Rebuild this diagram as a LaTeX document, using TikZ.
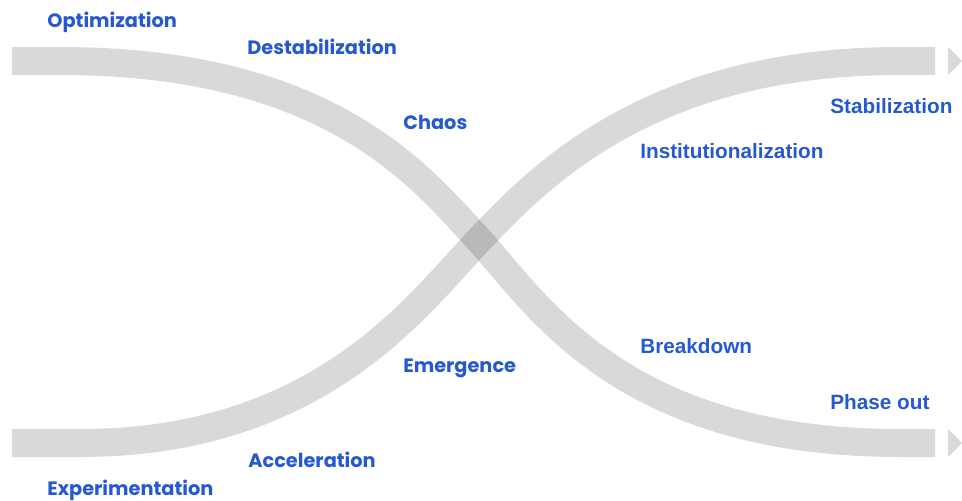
\documentclass[tikz,border=0pt]{standalone}
\usepackage{fontspec}
\newfontfamily\geofont{Poppins}
\newfontfamily\arialfont{Liberation Sans}
\definecolor{phaseblue}{RGB}{38,88,208}

\tikzset{
  band/.style={line width=0.56cm, draw=black, opacity=0.15},
  bandtip/.style={fill=black, opacity=0.15},
  geolabel/.style={font=\geofont\bfseries\fontsize{11}{13}\selectfont, text=phaseblue, anchor=base west, inner sep=0pt},
  arlabel/.style={font=\arialfont\bfseries\fontsize{11.8}{14}\selectfont, text=phaseblue, anchor=base west, inner sep=0pt}
}

\begin{document}
\begin{tikzpicture}[x=0.02cm, y=-0.02cm]
  \useasboundingbox (0,0) rectangle (962,500);

  % end points of the two curves
  \coordinate (fallStart) at (12,61);
  \coordinate (fallEnd) at (935,443);
  \coordinate (riseStart) at (12,443);
  \coordinate (riseEnd) at (935,61);
  \coordinate (cross) at (479,240);

  % falling curve: optimization -> phase out
  \draw[band] (fallStart) -- (60,61) .. controls (330,61) and (421,177) .. (cross)
    .. controls (537,303) and (620,443) .. (900,443) -- (fallEnd);
  \fill[bandtip] ([xshift=0.26cm, yshift=-0.28cm]fallEnd) -- ([xshift=0.54cm]fallEnd)
    -- ([xshift=0.26cm, yshift=0.28cm]fallEnd) -- cycle;

  % rising curve: experimentation -> stabilization
  \draw[band] (riseStart) -- (80,443) .. controls (320,443) and (418,304) .. (cross)
    .. controls (540,176) and (650,61) .. (900,61) -- (riseEnd);
  \fill[bandtip] ([xshift=0.26cm, yshift=-0.28cm]riseEnd) -- ([xshift=0.54cm]riseEnd)
    -- ([xshift=0.26cm, yshift=0.28cm]riseEnd) -- cycle;

  % labels of the old system
  \node[geolabel] (optim) at (47,28) {Optimization};
  \node[geolabel] (destab) at (247,55) {Destabilization};
  \node[geolabel] (chaos) at (403,129) {Chaos};
  \node[arlabel] (breakdown) at (640,353) {Breakdown};
  \node[arlabel] (phaseout) at (830,409) {Phase out};

  % labels of the new system
  \node[geolabel] (experim) at (47,495) {Experimentation};
  \node[geolabel] (accel) at (248,467) {Acceleration};
  \node[geolabel] (emerg) at (403,372) {Emergence};
  \node[arlabel] (instit) at (640,158) {Institutionalization};
  \node[arlabel] (stabil) at (830,113) {Stabilization};
\end{tikzpicture}
\end{document}
